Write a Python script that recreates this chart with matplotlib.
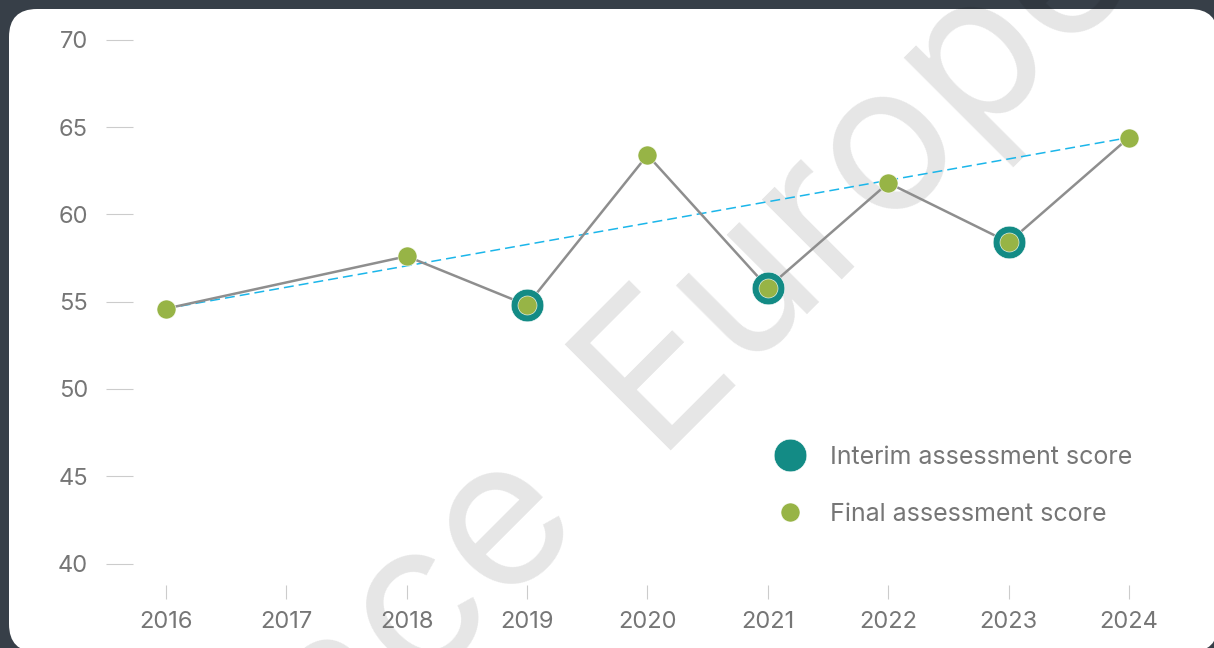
import math
import matplotlib
matplotlib.use("Agg")
import matplotlib.pyplot as plt
from matplotlib.patches import FancyBboxPatch
from matplotlib.transforms import IdentityTransform
from matplotlib.lines import Line2D

# ---- data ----
final_years = [2016, 2018, 2019, 2020, 2021, 2022, 2023, 2024]
final_scores = [54.6, 57.6, 54.8, 63.4, 55.8, 61.8, 58.4, 64.4]
interim_years = [2019, 2021, 2023]
interim_scores = [54.8, 55.8, 58.4]
trend_years = [2016, 2024]
trend_scores = [54.6, 64.4]
x_ticks = [2016, 2017, 2018, 2019, 2020, 2021, 2022, 2023, 2024]
y_ticks = [40, 45, 50, 55, 60, 65, 70]
legend_labels = ["Interim assessment score", "Final assessment score"]
watermark_parts = ["ace", "Europe"]

FONT = "Inter"
TEXT_C = "#767676"
TICK_C = "#cccccc"
LINE_C = "#8e8e8e"
TREND_C = "#1bb6ea"
FINAL_C = "#97b446"
INTERIM_C = "#138b85"
BG = "#373f48"

W, H = 1214, 648
fig = plt.figure(figsize=(W / 100, H / 100), dpi=100, facecolor=BG)

# white rounded card
card = FancyBboxPatch((9, -4), 1209, 643, boxstyle="round,pad=0,rounding_size=28",
                      transform=IdentityTransform(), facecolor="white", edgecolor="none",
                      zorder=0)
fig.patches.append(card)

ax = fig.add_axes([133 / W, 1 - 585 / H, (1162 - 133) / W, (585 - 30) / H])
ax.set_facecolor("none")
ax.set_zorder(2)

ax.plot(trend_years, trend_scores, color=TREND_C, lw=1.1, dashes=(6.5, 3.3), zorder=2)
ax.plot(final_years, final_scores, color=LINE_C, lw=1.8, zorder=3)
ax.plot(interim_years, interim_scores, ls="none", marker="o", ms=23.5,
        mfc=INTERIM_C, mec="white", mew=0.4, zorder=4)
ax.plot(final_years, final_scores, ls="none", marker="o", ms=13.7,
        mfc=FINAL_C, mec="white", mew=0.4, zorder=5)

ax.set_xlim(2015.726, 2024.274)
ax.set_ylim(38.77, 70.56)
ax.set_xticks(x_ticks)
ax.set_xticklabels([str(v) for v in x_ticks])
ax.set_yticks(y_ticks)
ax.set_yticklabels([str(v) for v in y_ticks])
for s in ax.spines.values():
    s.set_visible(False)
ax.tick_params(axis="x", length=10, width=0.8, color=TICK_C, pad=9,
               labelsize=17, labelcolor=TEXT_C)
ax.tick_params(axis="y", length=19.5, width=0.8, color=TICK_C, pad=13,
               labelsize=17, labelcolor=TEXT_C)
for lab in ax.get_xticklabels() + ax.get_yticklabels():
    lab.set_fontfamily(FONT)

handles = [
    Line2D([], [], ls="none", marker="o", ms=23.5, mfc=INTERIM_C, mec="white", mew=0.4),
    Line2D([], [], ls="none", marker="o", ms=13.7, mfc=FINAL_C, mec="white", mew=0.4),
]
leg = ax.legend(handles, legend_labels, loc="upper left",
                bbox_to_anchor=(777 / W, 1 - 446 / H), bbox_transform=fig.transFigure,
                frameon=False, borderpad=0, borderaxespad=0, handlelength=1.0,
                handletextpad=1.1, labelspacing=1.36,
                prop={"family": FONT, "size": 18})
for t in leg.get_texts():
    t.set_color(TEXT_C)

# watermark
bx, by = 653, 450
fig.text(bx / W, 1 - by / H, watermark_parts[1], rotation=45, rotation_mode="anchor",
         ha="left", va="baseline", fontsize=148, family=FONT, fontweight="normal",
         color="black", alpha=0.1, zorder=1)
d = 98 / math.sqrt(2)
fig.text((bx - d) / W, 1 - (by + d) / H, watermark_parts[0], rotation=45,
         rotation_mode="anchor", ha="right", va="baseline", fontsize=148, family=FONT,
         fontweight="normal", color="black", alpha=0.1, zorder=1)

fig.savefig("out.png", dpi=100, facecolor=BG)
